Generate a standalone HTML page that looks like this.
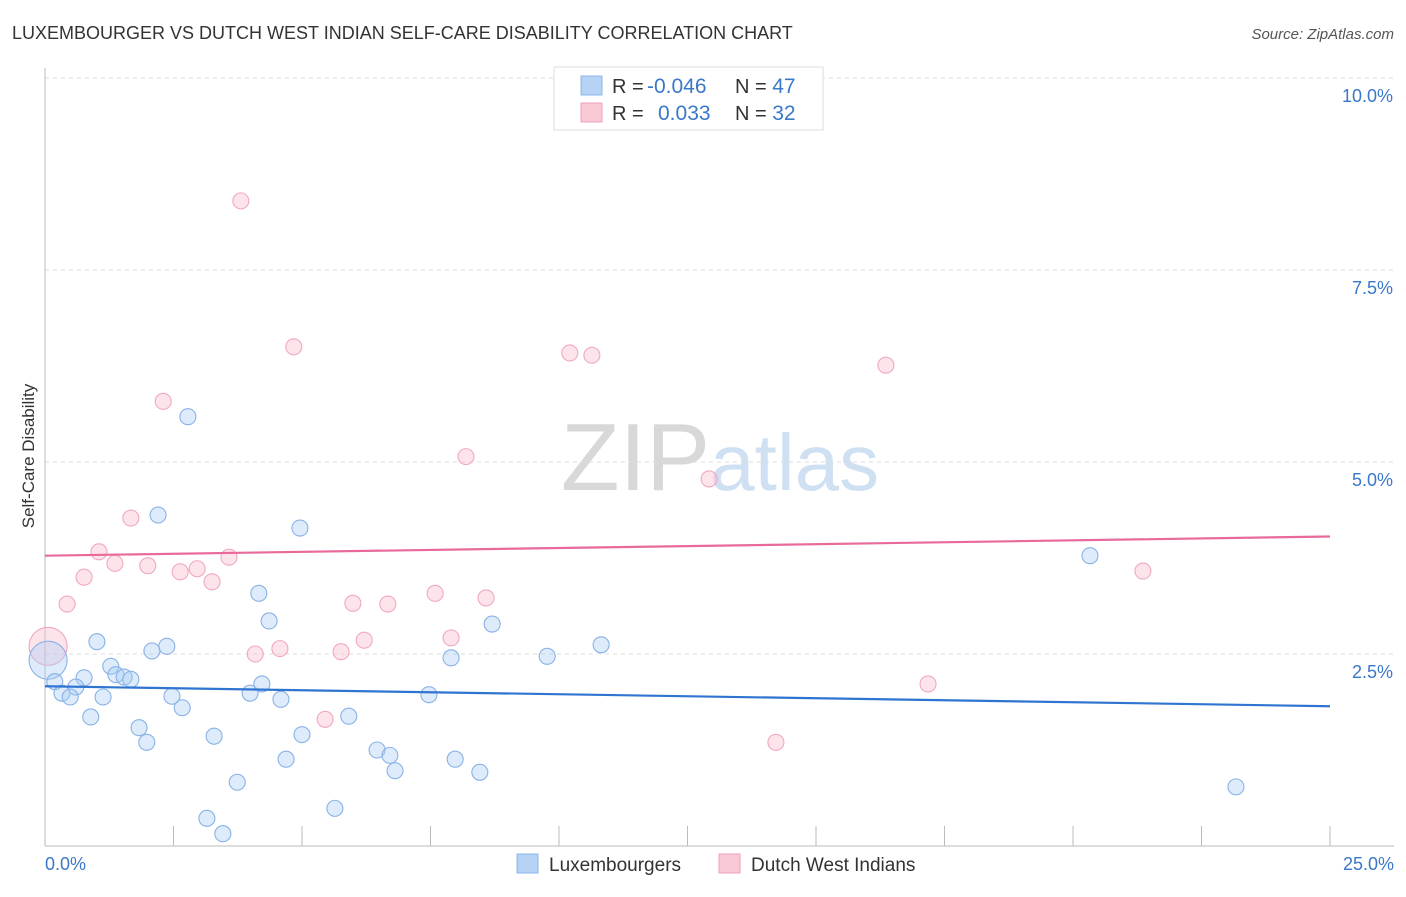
<!DOCTYPE html>
<html><head><meta charset="utf-8"><style>
body{margin:0;background:#fff;font-family:"Liberation Sans",sans-serif;}
svg text{font-family:"Liberation Sans",sans-serif;}
</style></head><body>
<svg id="chart" width="1406" height="892">
<text x="12" y="39" font-size="18" fill="#333">LUXEMBOURGER VS DUTCH WEST INDIAN SELF-CARE DISABILITY CORRELATION CHART</text>
<text x="1394" y="39" font-size="15" fill="#555" font-style="italic" text-anchor="end">Source: ZipAtlas.com</text>
<text x="720" y="490" font-size="96" fill="#ddd" text-anchor="middle" font-family="Liberation Serif"><tspan fill="#d8d8d8">ZIP</tspan><tspan fill="#cfe0f3" font-family="Liberation Sans" font-size="80">atlas</tspan></text>
<g id="grid"></g>
<g id="axes"></g>
<g id="marks"></g>
<text x="34" y="456" font-size="17" fill="#333" text-anchor="middle" transform="rotate(-90 34 456)">Self-Care Disability</text>
<g>
<rect x="554" y="67" width="269" height="63" fill="#fff" stroke="#ddd"/>
<rect x="581" y="76" width="21" height="19" fill="#b6d2f5" stroke="#8fb6e8"/>
<rect x="581" y="103" width="21" height="19" fill="#f9c9d6" stroke="#f0a0b8"/>
<text x="612" y="93" font-size="20" fill="#333">R = </text>
<text x="647" y="93" font-size="21" fill="#3a78c9">-0.046</text>
<text x="735" y="93" font-size="20" fill="#333">N = <tspan fill="#3a78c9" font-size="21">47</tspan></text>
<text x="612" y="120" font-size="20" fill="#333">R = </text>
<text x="658" y="120" font-size="21" fill="#3a78c9">0.033</text>
<text x="735" y="120" font-size="20" fill="#333">N = <tspan fill="#3a78c9" font-size="21">32</tspan></text>
</g>
<g>
<rect x="517" y="854" width="21" height="19" fill="#b6d2f5" stroke="#8fb6e8"/>
<text x="549" y="871" font-size="19" fill="#333">Luxembourgers</text>
<rect x="719" y="854" width="21" height="19" fill="#f9c9d6" stroke="#f0a0b8"/>
<text x="751" y="871" font-size="19" fill="#333">Dutch West Indians</text>
</g>
</svg>
<script>
const xTicks=[0,2.5,5,7.5,10,12.5,15,17.5,20,22.5,25];
const yTicks=[2.5,5,7.5,10];
const yTickLabels=["2.5%","5.0%","7.5%","10.0%"];
const blueX=[2.78,2.20,4.96,20.33,4.16,4.36,8.70,1.01,2.37,2.08,10.82,7.90,9.77,1.28,0.19,0.76,1.38,1.54,1.67,0.60,0.33,0.49,1.13,2.47,3.99,4.22,4.59,7.47,2.67,0.89,5.91,1.83,1.98,3.29,5.00,6.46,6.71,4.69,7.98,6.81,8.46,3.74,5.64,3.15,3.46,23.17];
const blueY=[5.59,4.31,4.14,3.78,3.29,2.93,2.89,2.66,2.60,2.54,2.62,2.45,2.47,2.34,2.14,2.19,2.23,2.20,2.17,2.07,1.99,1.94,1.94,1.95,1.99,2.11,1.91,1.97,1.80,1.68,1.69,1.54,1.35,1.43,1.45,1.25,1.18,1.13,1.13,0.98,0.96,0.83,0.49,0.36,0.16,0.77];
const pinkX=[3.81,4.84,10.21,10.64,16.36,2.30,8.19,12.92,1.67,1.05,3.58,1.36,2.00,2.63,2.96,0.76,3.25,21.36,7.59,8.58,0.43,5.99,6.67,6.21,7.90,4.09,4.57,5.76,17.18,5.45,14.22];
const pinkY=[8.40,6.50,6.42,6.39,6.26,5.79,5.07,4.78,4.27,3.83,3.76,3.68,3.65,3.57,3.61,3.50,3.44,3.58,3.29,3.23,3.15,3.16,3.15,2.68,2.71,2.50,2.57,2.53,2.11,1.65,1.35];
const bigBlue=[0.06,2.42];
const bigPink=[0.06,2.60];
const blueTrend=[2.08,1.82];
const pinkTrend=[3.78,4.03];
const NS="http://www.w3.org/2000/svg";
const sx=v=>45+v*51.4;
const sy=v=>846-v*76.8;
function mk(tag,attrs,parent){const e=document.createElementNS(NS,tag);for(const k in attrs)e.setAttribute(k,attrs[k]);parent.appendChild(e);return e;}
const grid=document.getElementById('grid'),axes=document.getElementById('axes'),marks=document.getElementById('marks');
yTicks.forEach((t,i)=>{
  const l=mk('line',{x1:45,x2:1394,y1:sy(t),y2:sy(t),stroke:'#ddd','stroke-dasharray':'4,4'},grid);
  
  
  const tx=mk('text',{x:1393,y:sy(t)+24,'font-size':18,fill:'#3a78c9','text-anchor':'end'},axes);
  tx.textContent=yTickLabels[i];
  
  
});
const xa=mk('line',{x1:45,x2:1394,y1:846,y2:846,stroke:'#bbb'},axes);


const ya=mk('line',{x1:45,x2:45,y1:68,y2:846,stroke:'#bbb'},axes);


xTicks.forEach(t=>{
  const l=mk('line',{x1:sx(t),x2:sx(t),y1:826,y2:846,stroke:'#bbb'},axes);
  
  
});
const x0=mk('text',{x:45,y:870,'font-size':18,fill:'#3a78c9'},axes);x0.textContent='0.0%';


const x1=mk('text',{x:1394,y:870,'font-size':18,fill:'#3a78c9','text-anchor':'end'},axes);x1.textContent='25.0%';


function dot(x,y,r,fill,stroke,name){
  const c=mk('circle',{cx:sx(x),cy:sy(y),r:r,fill:fill,stroke:stroke,'stroke-width':1.1},marks);
  
  
}
const bf='rgba(170,204,244,0.4)',bs='#88b2e6',pf='rgba(250,188,206,0.4)',ps='#f0a8bf';
dot(bigPink[0],bigPink[1],19,pf,ps,'point-dutch-west-indian-large');
dot(bigBlue[0],bigBlue[1],19,bf,bs,'point-luxembourger-large');
pinkX.forEach((x,i)=>dot(x,pinkY[i],8,pf,ps,'point-dutch-west-indian'));
blueX.forEach((x,i)=>dot(x,blueY[i],8,bf,bs,'point-luxembourger'));
const bt=mk('line',{x1:sx(0),x2:sx(25),y1:sy(blueTrend[0]),y2:sy(blueTrend[1]),stroke:'#2f74d0','stroke-width':2.2},marks);


const pt=mk('line',{x1:sx(0),x2:sx(25),y1:sy(pinkTrend[0]),y2:sy(pinkTrend[1]),stroke:'#e8699a','stroke-width':2.2},marks);


</script>
</body></html>
